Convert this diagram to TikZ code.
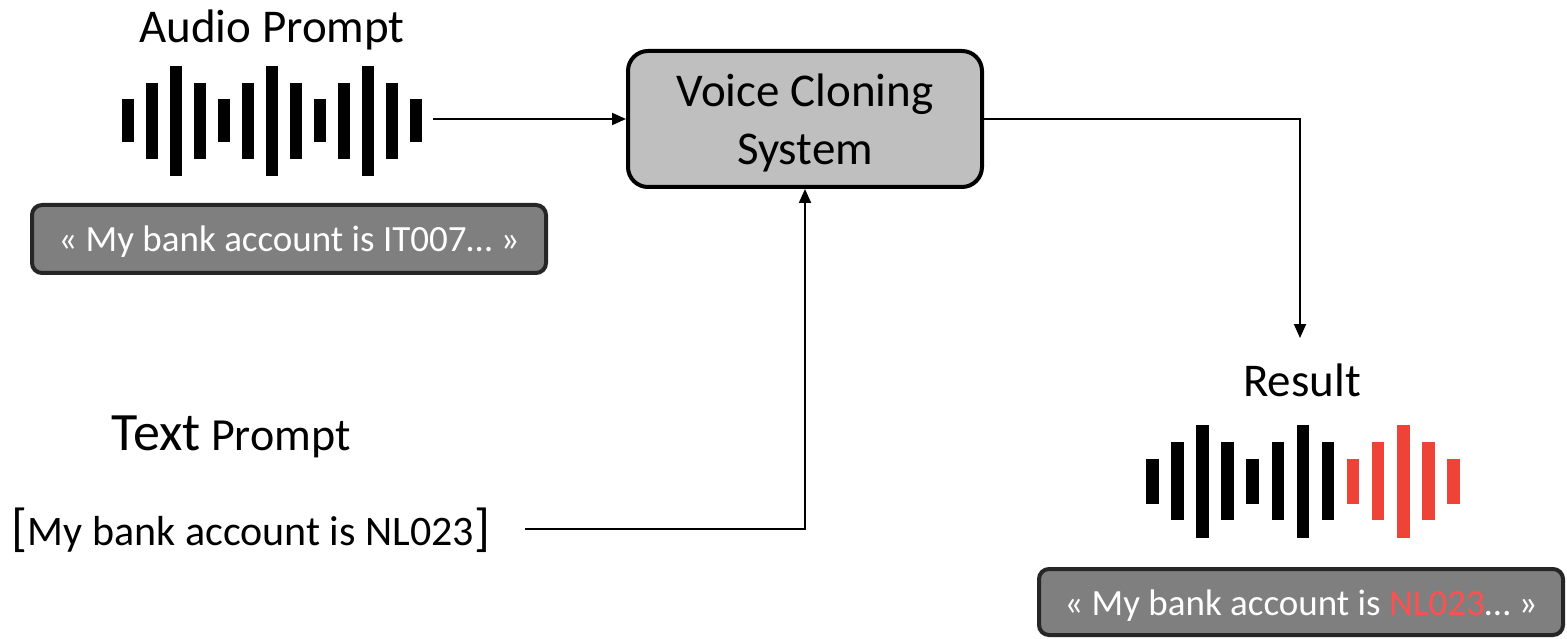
\documentclass[tikz,border=0pt]{standalone}
\usepackage{fontspec}
\setmainfont{Carlito}
\usetikzlibrary{arrows.meta,positioning}
\definecolor{vcsgray}{HTML}{BFBFBF}
\definecolor{boxgray}{HTML}{7F7F7F}
\definecolor{boxedge}{HTML}{262626}
\definecolor{barred}{HTML}{EE4437}
\definecolor{txtred}{HTML}{FF5050}
\tikzset{
  lbl/.style={font=\fontsize{47}{56}\selectfont, inner sep=0pt},
  vcs/.style={draw, line width=4pt, fill=vcsgray, rounded corners=20pt,
    minimum width=354pt, minimum height=136pt,
    font=\fontsize{47}{58}\selectfont},
  txtbox/.style={draw=boxedge, line width=4pt, fill=boxgray, rounded corners=10pt,
    text=white, font=\fontsize{37}{44}\selectfont},
}
\begin{document}
\begin{tikzpicture}[x=1pt,y=-1pt,line width=2pt,>={Triangle[width=12pt,length=14pt]}]
\useasboundingbox (0,0) rectangle (1567,639);
% audio prompt
\node[lbl] (audio) at (272,30) {Audio Prompt};
\foreach \h [count=\i from 0] in {43,76,110,76,43,76,110,76,43,76,110,76,43}
  \fill (122+24*\i,121-\h/2) rectangle ++(12,\h);
\coordinate (awave) at (433,119);
\node[txtbox, minimum width=514pt, minimum height=68pt] (abox) at (289,239)
  {\raisebox{-3pt}[\height][\depth]{« My bank account is IT007… »}};
% system
\node[vcs] (vcs) at (805,119)
  {\raisebox{-5pt}[\height][\depth]{\begin{tabular}{@{}c@{}}Voice Cloning\\System\end{tabular}}};
% text prompt
\node[lbl, font=\fontsize{46}{54}\selectfont] (tlabel) at (231,437)
  {{\fontsize{54}{60}\selectfont Text} Prompt};
\node[lbl, font=\fontsize{42}{50}\selectfont] (tprompt) at (251,530)
  {{\fontsize{52}{60}\selectfont[}My bank account is NL023{\fontsize{52}{60}\selectfont]}};
\coordinate (tpout) at (525,529);
% result
\node[lbl] (result) at (1302,380) {Result};
\foreach \h/\c [count=\i from 0] in {45/black,78/black,113/black,78/black,45/black,
    78/black,113/black,78/black,45/barred,78/barred,113/barred,78/barred,45/barred}
  \fill[\c] (1146+25.1*\i,481-\h/2) rectangle ++(12.5,\h);
\node[txtbox, minimum width=524pt, minimum height=66pt] (rbox) at (1301,602)
  {\raisebox{-4pt}[\height][\depth]{« My bank account is \textcolor{txtred}{NL023}… »}};
\coordinate (resin) at (1300,338);
% connectors
\draw[->] (awave) -- (vcs.west);
\draw[->] (vcs.east) -| (resin);
\draw[->] (tpout) -| (vcs.south);
\end{tikzpicture}
\end{document}
